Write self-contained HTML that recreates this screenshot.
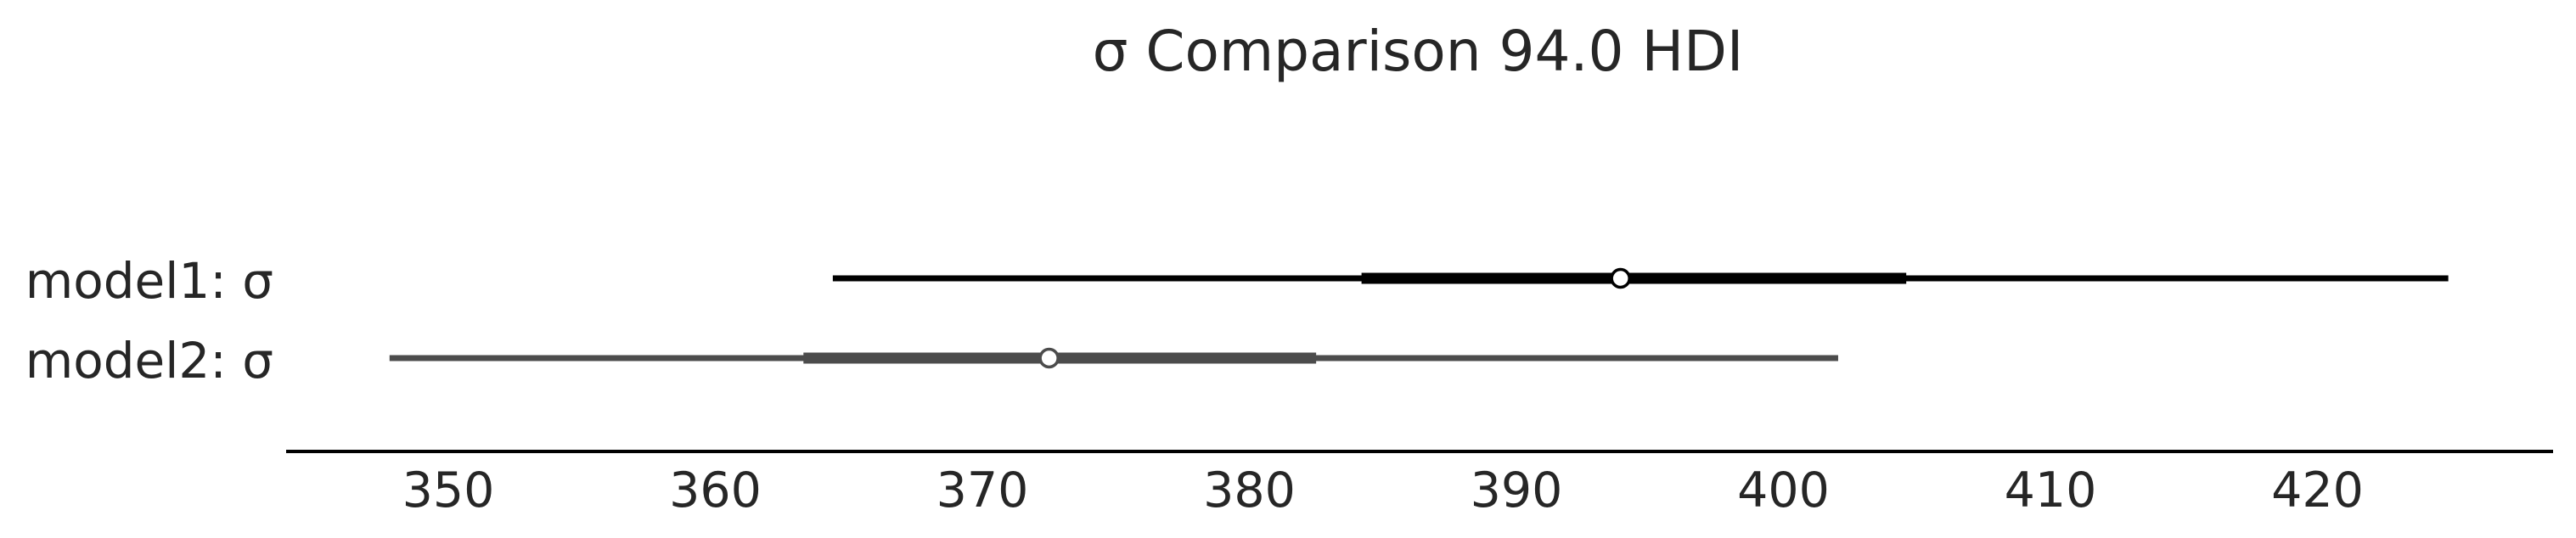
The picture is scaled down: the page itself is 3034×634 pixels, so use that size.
<!DOCTYPE html>
<html><head><meta charset="utf-8"><style>
html,body{margin:0;padding:0;background:#fff;}
svg{display:block;font-family:"DejaVu Sans","Liberation Sans",sans-serif;}
</style></head><body>
<svg id="chart" width="3034" height="634" viewBox="0 0 3034 634">
<text x="1670" y="83" font-size="66" text-anchor="middle" fill="#262626">σ Comparison 94.0 HDI</text>
<line x1="337" y1="532" x2="3007" y2="532" stroke="#000" stroke-width="4"/>
<g id="ticks"></g>
<g id="marks"></g>
</svg>
<script>
const models = ["model1: σ", "model2: σ"];
const hdiLow = [364.4, 347.8];
const hdiHigh = [424.9, 402.05];
const iqrLow = [384.2, 363.3];
const iqrHigh = [404.6, 382.5];
const medians = [393.9, 372.5];
const tickValues = [350, 360, 370, 380, 390, 400, 410, 420];
const tickLabels = ["350", "360", "370", "380", "390", "400", "410", "420"];

const NS = "http://www.w3.org/2000/svg";
function xScale(v){ return 528 + (v - 350) * 31.45; }
function yScale(i){ return 328 + i * 94; }
const colors = ["#000000", "#4c4c4c"];
const ticks = document.getElementById("ticks");
const marks = document.getElementById("marks");
function mk(tag, attrs, parent){
  const e = document.createElementNS(NS, tag);
  for (const k in attrs) e.setAttribute(k, attrs[k]);
  parent.appendChild(e);
  return e;
}
tickValues.forEach((v, i) => {
  const t = mk("text", {x: xScale(v), y: 597, "font-size": 57, "text-anchor": "middle", fill: "#262626"}, ticks);
  t.textContent = tickLabels[i];
  
  
});
models.forEach((m, i) => {
  const y = yScale(i);
  const lbl = mk("text", {x: 322, y: y + 23, "font-size": 58, "text-anchor": "end", fill: "#262626"}, marks);
  lbl.textContent = m;
  
  
  const thin = mk("line", {x1: xScale(hdiLow[i]), x2: xScale(hdiHigh[i]), y1: y, y2: y, stroke: colors[i], "stroke-width": 7}, marks);
  
  
  const thick = mk("line", {x1: xScale(iqrLow[i]), x2: xScale(iqrHigh[i]), y1: y, y2: y, stroke: colors[i], "stroke-width": 13}, marks);
  
  
  const c = mk("circle", {cx: xScale(medians[i]), cy: y, r: 10.5, fill: "#fff", stroke: colors[i], "stroke-width": 3.5}, marks);
  
  
});
</script>
</body></html>
